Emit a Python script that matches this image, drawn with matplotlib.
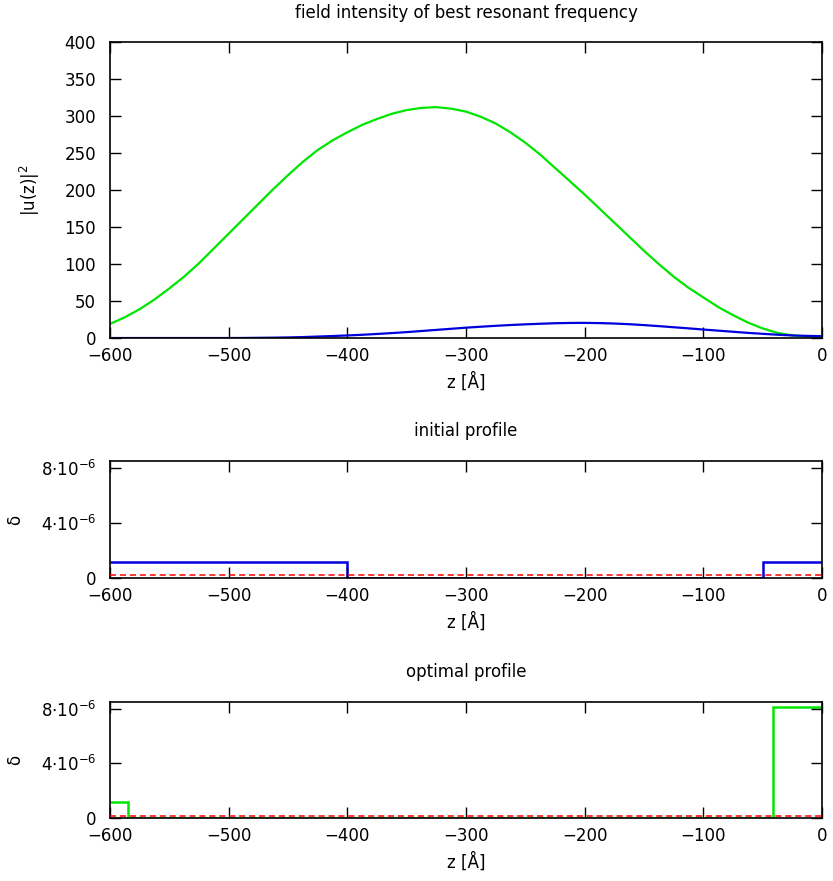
import numpy as np
import matplotlib
matplotlib.use("Agg")
import matplotlib.pyplot as plt
import matplotlib.ticker as mtick

# --- data (every 12.5 A) ---
z = [-600, -587.5, -575, -562.5, -550, -537.5, -525, -512.5, -500, -487.5,
     -475, -462.5, -450, -437.5, -425, -412.5, -400, -387.5, -375, -362.5,
     -350, -337.5, -325, -312.5, -300, -287.5, -275, -262.5, -250, -237.5,
     -225, -212.5, -200, -187.5, -175, -162.5, -150, -137.5, -125, -112.5,
     -100, -87.5, -75, -62.5, -50, -37.5, -25, -12.5, 0]
u2_green = [19, 28, 39, 52, 67, 83, 101, 121, 141, 161,
            181, 201, 220, 238, 254, 267, 278, 288, 296, 303,
            308, 311, 312, 310, 306, 299, 290, 278, 264, 248,
            230, 212, 194, 175, 156, 137, 118, 100, 83, 68,
            55, 42, 31, 21, 13, 7, 3.5, 2, 1.5]
u2_blue = [0, 0, 0, 0, 0, 0, 0, 0, 0, 0.1,
           0.3, 0.5, 0.8, 1.3, 2, 2.7, 3.5, 4.4, 5.5, 6.7,
           8, 9.5, 11, 12.5, 14, 15.3, 16.5, 17.6, 18.5, 19.3,
           20, 20.4, 20.5, 20.2, 19.6, 18.7, 17.5, 16.1, 14.6, 13.1,
           11.5, 10, 8.5, 7, 5.7, 4.5, 3.5, 2.9, 2.5]

init_edges = [-600, -400, -50, 0]
init_delta = [1.15e-6, 0, 1.15e-6]
init_ref = 0.2e-6

opt_edges = [-600, -585, -41, 0]
opt_delta = [1.15e-6, 0, 8.1e-6]
opt_ref = 0.12e-6

x_ticks = [-600, -500, -400, -300, -200, -100, 0]
u2_ticks = [0, 50, 100, 150, 200, 250, 300, 350, 400]
d_ticks = [0, 4e-6, 8e-6]
d_ticklabels = ['0', r'4$\cdot$10$^{-6}$', r'8$\cdot$10$^{-6}$']

GREEN = '#00e600'
BLUE = '#0000dd'
RED = '#ff0000'
FS = 12

plt.rcParams['font.family'] = ['DejaVu Sans']
plt.rcParams['font.size'] = FS
plt.rcParams['mathtext.fontset'] = 'dejavusans'


def style_axis(ax):
    ax.set_xlim(-600, 0)
    ax.xaxis.set_major_locator(mtick.FixedLocator(x_ticks))
    ax.tick_params(direction='in', length=8, width=1, top=True, right=True,
                   labelsize=FS)
    ax.tick_params(axis='x', pad=6.5)
    ax.tick_params(axis='y', pad=10)
    for sp in ax.spines.values():
        sp.set_linewidth(1.2)
    ax.set_xlabel('z [Å]', labelpad=5.5)


fig = plt.figure(figsize=(8.33, 8.81), dpi=100)
ax1 = fig.add_axes([0.132, 0.6163, 0.8547, 0.336])
ax2 = fig.add_axes([0.132, 0.344, 0.8547, 0.1328])
ax3 = fig.add_axes([0.132, 0.0715, 0.8547, 0.1317])

# top panel
ax1.plot(z, u2_green, color=GREEN, lw=1.6)
ax1.plot(z, u2_blue, color=BLUE, lw=1.6)
style_axis(ax1)
ax1.set_ylim(0, 400)
ax1.yaxis.set_major_locator(mtick.FixedLocator(u2_ticks))
ax1.set_ylabel('|u(z)|$^2$', va='center')
ax1.yaxis.set_label_coords(-0.112, 0.5)
ax1.set_title('field intensity of best resonant frequency', pad=17, fontsize=FS)

# initial profile
ax2.stairs(init_delta, init_edges, baseline=None, color=BLUE, lw=1.8)
ax2.axhline(init_ref, color=RED, lw=1.1, ls=(0, (4, 2.5)), zorder=3)
ax2.set_title('initial profile', pad=18, fontsize=FS)

# optimal profile
ax3.stairs(opt_delta, opt_edges, baseline=None, color=GREEN, lw=1.8)
ax3.axhline(opt_ref, color=RED, lw=1.1, ls=(0, (4, 2.5)), zorder=3)
ax3.set_title('optimal profile', pad=18, fontsize=FS)

for ax in (ax2, ax3):
    style_axis(ax)
    ax.set_ylim(0, 8.5e-6)
    ax.yaxis.set_major_locator(mtick.FixedLocator(d_ticks))
    ax.yaxis.set_major_formatter(mtick.FixedFormatter(d_ticklabels))
    ax.set_ylabel('δ', va='center')
    ax.yaxis.set_label_coords(-0.133, 0.5)

fig.savefig('out.png', dpi=100)
